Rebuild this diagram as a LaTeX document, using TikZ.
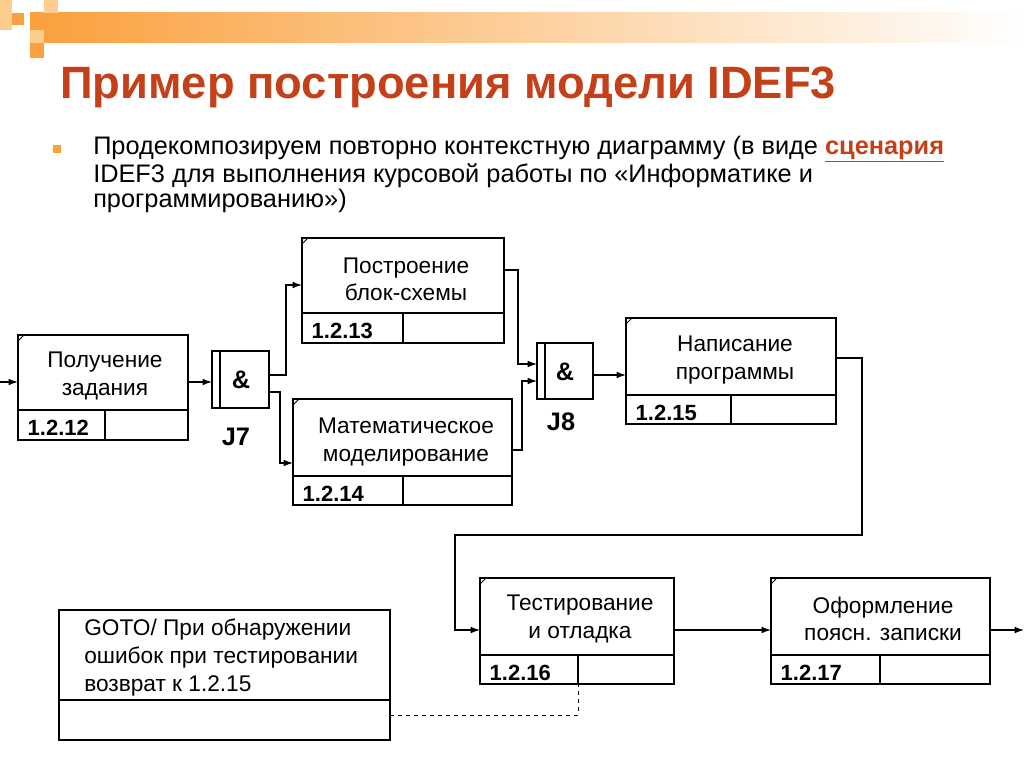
\documentclass[tikz,border=0pt]{standalone}
\usepackage{fontspec}
\setmainfont{Liberation Sans}
\usetikzlibrary{calc,arrows.meta}
\definecolor{ttl}{RGB}{196,64,24}
\definecolor{org}{RGB}{250,160,60}
\definecolor{lorg}{RGB}{252,205,140}
\begin{document}
\begin{tikzpicture}[x=0.75pt,y=-0.75pt,
  ln/.style={line width=0.9pt},
  arr/.style={ln,-{Latex[length=7pt,width=5pt]}},
  lbl/.style={font=\fontsize{17}{20.5}\selectfont,align=center},
  num/.style={font=\bfseries\fontsize{16.5}{18}\selectfont,anchor=west},
  jl/.style={font=\bfseries\fontsize{19}{21}\selectfont}]
\useasboundingbox (0,0) rectangle (1024,767);
% top bar
\shade[left color=org,right color=white] (30,13) rectangle (1024,43);
\fill[lorg] (0,0) rectangle (12,30);
\fill[org] (12,13) rectangle (24,25);
\fill[lorg] (44,0) rectangle (58,13);
\fill[lorg] (30,30) rectangle (44,43);
\fill[org] (30,43) rectangle (44,58);
% title
\node[anchor=west,text=ttl,font=\bfseries\fontsize{34}{38}\selectfont,inner sep=0] (title) at (60,87) {Пример построения модели IDEF3};
\fill[org] (53,145) rectangle (61,153);
\node[anchor=north west,align=left,inner sep=0,font=\fontsize{19}{18.75}\selectfont] (txt) at (93,136)
 {Продекомпозируем повторно контекстную диаграмму (в виде \textcolor{ttl}{\bfseries\underline{сценария}}\\IDEF3 для выполнения курсовой работы по «Информатике и\\программированию»)};
% UOB macro: name x1 y1 x2 y2 ydiv xv num
\newcommand{\uob}[8]{%
  \draw[ln] (#2,#3) rectangle (#4,#5);
  \draw[ln] (#2,#6) -- (#4,#6) (#7,#6) -- (#7,#5);
  \draw[line width=0.6pt] (#2,#3+6) -- (#2+6,#3);
  \node[num] at (#2+5,{(#6+#5)/2+3}) {#8};
  \coordinate (#1) at (#2,#3);
}
\uob{b12}{18}{335}{188}{440}{410}{105}{1.2.12}
\node[lbl] (t12) at (105,376) {Получение\\задания};
\uob{b13}{302}{238}{504}{343}{313}{403}{1.2.13}
\node[lbl] (t13) at (406,279) {Построение\\блок-схемы};
\uob{b14}{293}{399}{512}{505}{476}{403}{1.2.14}
\node[lbl] (t14) at (406,442) {Математическое\\моделирование};
\uob{b15}{626}{318}{836}{424}{395}{731}{1.2.15}
\node[lbl] (t15) at (735,360) {Написание\\программы};
\uob{b16}{480}{578}{674}{684}{655}{578}{1.2.16}
\node[lbl] (t16) at (580,619) {Тестирование\\и отладка};
\uob{b17}{771}{578}{990}{684}{655}{880}{1.2.17}
\node[lbl] (t17) at (883,619) {Оформление\\поясн. записки};
% GOTO box
\draw[ln] (59,610) rectangle (390,740);
\draw[ln] (59,700) -- (390,700);
\node[anchor=north west,align=left,inner sep=0,font=\fontsize{17}{21}\selectfont] (gt) at (84,619) {GOTO/ При обнаружении\\ошибок при тестировании\\возврат к 1.2.15};
% junctions
\draw[ln] (212,351) rectangle (269,408) (220,351) -- (220,408);
\node[jl] (j7) at (241,380) {\&};
\node[jl] (l7) at (236,437) {J7};
\draw[ln] (537,343) rectangle (593,399) (545,343) -- (545,399);
\node[jl] (j8) at (565,372) {\&};
\node[jl] (l8) at (561,422) {J8};
% connectors
\draw[arr] (0,382) -- (18,382);
\draw[arr] (188,382) -- (212,382);
\draw[arr] (269,375) -- (286,375) |- (302,285);
\draw[arr] (269,392) -- (280,392) |- (293,463);
\draw[arr] (504,270) -- (518,270) |- (537,364);
\draw[arr] (512,450) -- (522,450) |- (537,381);
\draw[arr] (593,375) -- (626,375);
\draw[arr] (836,358) -- (862,358) -- (862,535) -- (455,535) |- (480,630);
\draw[arr] (674,630) -- (771,630);
\draw[arr] (990,630) -- (1024,630);
\draw[line width=0.6pt,dashed] (390,715) -- (578,715) -- (578,684);
\end{tikzpicture}
\end{document}
